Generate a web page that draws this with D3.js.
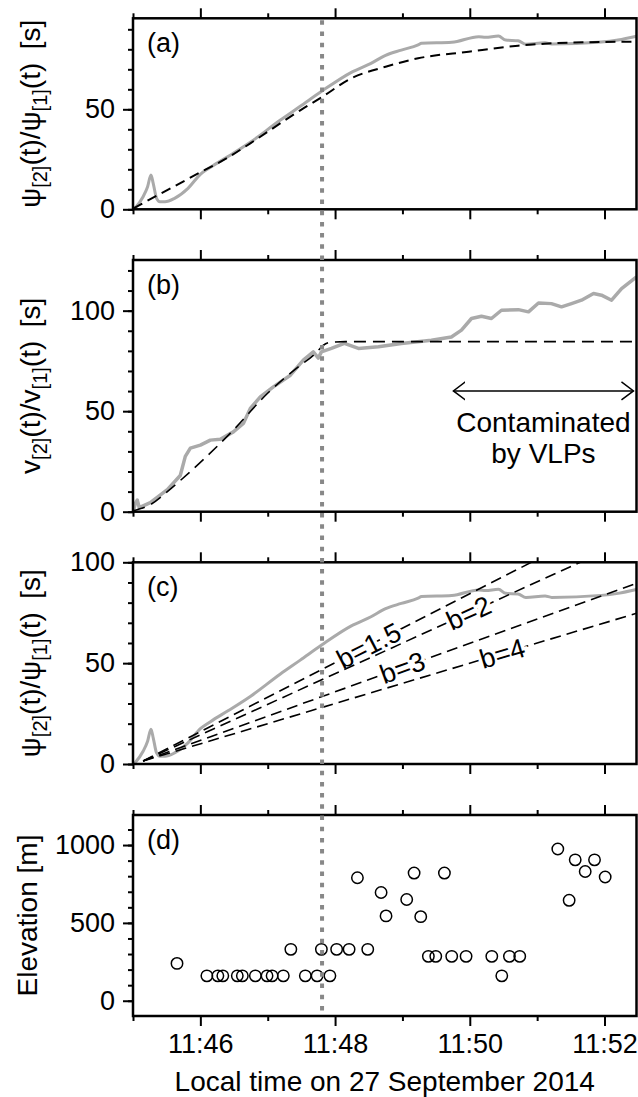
<!DOCTYPE html>
<html>
<head>
<meta charset="utf-8">
<script src="https://cdn.jsdelivr.net/npm/d3@7"></script>
<style>
body { margin: 0; background: #fff; }
svg text { font-family: "Liberation Sans", Arial, Helvetica, sans-serif; fill: #000; }
</style>
</head>
<body>
<div id="chart"></div>
<script>
// times are seconds after 11:45:00 local time, 27 Sep 2014

// (a),(c) amplitude ratio psi[2]/psi[1]
const psiTime  = [1, 9, 13, 16, 18, 21, 24, 28.5, 37, 49, 60, 69, 85, 104.5, 131, 149, 168, 194.5, 212, 225, 239, 254, 257, 284, 308, 314, 325.5, 332, 343, 350, 367, 373, 417, 432, 448.5];
const psiRatio = [0, 6.3, 11.3, 17.2, 13, 5.5, 3.8, 3.8, 5.5, 10.5, 17.5, 21, 26.5, 33.5, 44.5, 51.5, 59, 68.5, 73, 77, 79.6, 82.2, 83, 83.5, 86.3, 86, 86.6, 84.6, 84.3, 82.5, 83.3, 82.6, 83.6, 84.6, 86.5];
const psiFitTime = [0.4, 60, 85, 104.5, 149, 168, 194.5, 225, 254, 299, 343, 388, 448.5];
const psiFit     = [0.5, 18.5, 26, 33, 49.5, 56, 65.5, 71.3, 75.5, 78.8, 81.8, 83.3, 83.8];

// (b) velocity ratio v[2]/v[1]
const velTime  = [0.3, 2, 3.8, 5.6, 15.4, 30.6, 42.1, 46.6, 51.1, 60, 68.9, 77.8, 89.4, 98.3, 104.5, 113.4, 125, 140.2, 151.7, 160.6, 165.1, 167.8, 176.7, 188.3, 200.8, 218.6, 239.1, 265.8, 283.6, 292.6, 301.5, 310.4, 319.3, 328.2, 343.3, 352.3, 361.2, 372.7, 381.7, 390.6, 399.5, 410.2, 417.3, 426.3, 435.2, 448.5];
const velRatio = [0, 4, 5.8, 2, 4.5, 11, 18, 27.5, 31.6, 33.1, 35.6, 36, 39.7, 43.9, 51.4, 57.1, 62.1, 67.9, 75.4, 79.5, 76.4, 79.5, 81.2, 83.7, 81.2, 82, 83.7, 85.3, 86.9, 90.3, 96.1, 97.2, 96.1, 100.2, 100.5, 99.4, 103.8, 103.5, 101.9, 103.5, 105.2, 108.5, 107.7, 105.2, 111, 116.8];
const velFitTime = [0.3, 15.4, 30.6, 42.1, 60, 89.4, 119.7, 149.1, 160.6, 165.1, 169.6, 176.7, 189.2, 448.5];
const velFit     = [0.5, 3.5, 10, 15.5, 24.5, 40.6, 58.8, 72.9, 77.8, 80.3, 82.8, 84.3, 84.6, 84.6];

// (c) model lines for several b
const bLabels    = ["b=1.5", "b=2", "b=3", "b=4"];
const bLineTime  = [9, 448.5];
const bStart     = [1.5, 1.5, 1.5, 1.5];
const bEnd       = [126.7, 112.7, 89.6, 74.7];
const bLabelTime = [210, 299, 240, 329];

// (d) source elevation
const elevTime  = [39.2, 65.8, 75.6, 80, 92.9, 97.4, 109, 119.4, 123.9, 133.9, 140.6, 153.5, 164, 167.8, 175.4, 181.4, 192.5, 199.9, 209.1, 221, 225.4, 243.8, 250.4, 256.3, 263.1, 269.7, 277.4, 283.9, 296.7, 319.6, 328.5, 335.3, 344.5, 378.4, 388.5, 393.9, 402.8, 411.1, 420.6];
const elevation = [240, 160, 160, 160, 160, 160, 160, 160, 160, 160, 330, 160, 160, 330, 160, 330, 330, 790, 330, 695, 545, 650, 820, 540, 285, 285, 820, 285, 285, 285, 160, 285, 285, 975, 645, 905, 830, 905, 795];

const markerTime = 168.4;
const xTickLabels = ["11:46", "11:48", "11:50", "11:52"];
const xMinorLabels = ["11:45", "11:47", "11:49", "11:51"];
const panelLetters = ["(a)", "(b)", "(c)", "(d)"];

const width = 638, height = 1097;
const X0 = 133, X1 = 636.5;

const svg = d3.select("#chart").append("svg")
    .attr("width", width)
    .attr("height", height);

const parseHM = d3.timeParse("%H:%M");
const t0 = parseHM("11:45");
const toDate = s => new Date(t0.getTime() + s * 1000);

const x = d3.scaleTime()
    .domain([t0, toDate(448.5)])
    .range([X0, X1]);
const xMajor = xTickLabels.map(parseHM);
const xMinor = xMinorLabels.map(parseHM);

const panels = [
    { top: 18.3, bottom: 209.3, domain: [0, 95.5], major: [0, 50], minor: d3.range(0, 95, 10),
      label: [["ψ"], ["[2]", 1], ["(t)/ψ"], ["[1]", 1], ["(t)\u00a0\u2009[s]"]], labelX: 40 },
    { top: 260, bottom: 511.7, domain: [0, 125.2], major: [0, 50, 100], minor: d3.range(0, 125, 10),
      label: [["v"], ["[2]", 1], ["(t)/v"], ["[1]", 1], ["(t)\u00a0\u2009[s]"]], labelX: 40 },
    { top: 562.3, bottom: 764, domain: [0, 100], major: [0, 50, 100], minor: d3.range(0, 101, 10),
      label: [["ψ"], ["[2]", 1], ["(t)/ψ"], ["[1]", 1], ["(t)\u00a0\u2009[s]"]], labelX: 40 },
    { top: 815, bottom: 1016, domain: [-98, 1193], major: [0, 500, 1000], minor: d3.range(0, 1200, 100),
      label: [["Elevation [m]"]], labelX: 37 }
];

panels.forEach((p, i) => {
    p.y = d3.scaleLinear().domain(p.domain).range([p.bottom, p.top]);
    const g = svg.append("g");

    g.append("clipPath").attr("id", "clip" + i)
        .append("rect")
        .attr("x", X0).attr("y", p.top)
        .attr("width", X1 - X0).attr("height", p.bottom - p.top);
    p.plot = g.append("g").attr("clip-path", `url(#clip${i})`);

    // y ticks
    const yMaj = g.append("g").attr("transform", `translate(${X0},0)`)
        .call(d3.axisLeft(p.y).tickValues(p.major).tickSize(10).tickPadding(8)
            .tickSizeOuter(0).tickFormat(d3.format("d")));
    const yMin = g.append("g").attr("transform", `translate(${X0},0)`)
        .call(d3.axisLeft(p.y).tickValues(p.minor).tickSize(5).tickFormat(""));

    // x ticks top and bottom
    const xt = [
        g.append("g").attr("transform", `translate(0,${p.top})`)
            .call(d3.axisTop(x).tickValues(xMajor).tickSize(10).tickFormat("")),
        g.append("g").attr("transform", `translate(0,${p.top})`)
            .call(d3.axisTop(x).tickValues(xMinor).tickSize(5).tickFormat("")),
        g.append("g").attr("transform", `translate(0,${p.bottom})`)
            .call(d3.axisBottom(x).tickValues(xMajor).tickSize(10).tickPadding(8)
                .tickFormat(i === 3 ? (d, k) => xTickLabels[k] : "")),
        g.append("g").attr("transform", `translate(0,${p.bottom})`)
            .call(d3.axisBottom(x).tickValues(xMinor).tickSize(5).tickFormat(""))
    ];
    [yMaj, yMin, ...xt].forEach(a => {
        a.select(".domain").remove();
        a.selectAll("line").attr("stroke", "#000").attr("stroke-width", 2);
        a.selectAll("text").attr("font-family", null).style("font-size", "27px").attr("fill", "#000");
    });

    // frame
    g.append("rect")
        .attr("x", X0).attr("y", p.top)
        .attr("width", X1 - X0).attr("height", p.bottom - p.top)
        .attr("fill", "none").attr("stroke", "#000").attr("stroke-width", 2.5);

    // panel letter
    g.append("text")
        .attr("x", 147).attr("y", p.top + 34)
        .style("font-size", "27px")
        .text(panelLetters[i]);

    // y label with subscripts
    const lab = g.append("text")
        .attr("transform", `translate(${p.labelX},${(p.top + p.bottom) / 2}) rotate(-90)`)
        .attr("text-anchor", "middle")
        .style("font-size", "28px");
    let down = false;
    p.label.forEach(([s, sub]) => {
        const ts = lab.append("tspan").text(s);
        if (sub) {
            ts.style("font-size", "20px");
            if (!down) ts.attr("dy", 7);
            down = true;
        } else if (down) {
            ts.attr("dy", -7);
            down = false;
        }
    });
});

const grayLine = (times, vals, y, curve) => d3.line()
    .x((d, k) => x(toDate(times[k])))
    .y((d, k) => y(vals[k]))
    .curve(curve)(vals);

// (a)
const pa = panels[0];
pa.plot.append("path")
    .attr("d", grayLine(psiTime, psiRatio, pa.y, d3.curveMonotoneX))
    .attr("fill", "none").attr("stroke", "#aaaaaa").attr("stroke-width", 3);
pa.plot.append("path")
    .attr("d", grayLine(psiFitTime, psiFit, pa.y, d3.curveMonotoneX))
    .attr("fill", "none").attr("stroke", "#000").attr("stroke-width", 2)
    .attr("stroke-dasharray", "10,6");

// (b)
const pb = panels[1];
pb.plot.append("path")
    .attr("d", grayLine(velTime, velRatio, pb.y, d3.curveLinear))
    .attr("fill", "none").attr("stroke", "#aaaaaa").attr("stroke-width", 3.5)
    .attr("stroke-linejoin", "round");
pb.plot.append("path")
    .attr("d", grayLine(velFitTime, velFit, pb.y, d3.curveMonotoneX))
    .attr("fill", "none").attr("stroke", "#000").attr("stroke-width", 1.6)
    .attr("stroke-dasharray", "12,7");

// arrow and annotation
const arrowL = x(toDate(285.4)), arrowR = x(toDate(445.8)), arrowY = pb.y(60.1);
const defs = svg.append("defs");
defs.append("marker").attr("id", "head")
    .attr("viewBox", "-12 -10 14 20")
    .attr("refX", 0).attr("refY", 0)
    .attr("markerWidth", 14).attr("markerHeight", 20)
    .attr("markerUnits", "userSpaceOnUse")
    .attr("orient", "auto-start-reverse")
    .append("path")
    .attr("d", "M-12,-9L0,0L-12,9")
    .attr("fill", "none").attr("stroke", "#000").attr("stroke-width", 1.5);
svg.append("line")
    .attr("x1", arrowL).attr("x2", arrowR)
    .attr("y1", arrowY).attr("y2", arrowY)
    .attr("stroke", "#000").attr("stroke-width", 1.5)
    .attr("marker-start", "url(#head)").attr("marker-end", "url(#head)");
const noteX = x(toDate(365.6));
svg.append("text").attr("x", noteX).attr("y", arrowY + 41)
    .attr("text-anchor", "middle").style("font-size", "28px").text("Contaminated");
svg.append("text").attr("x", noteX).attr("y", arrowY + 72.5)
    .attr("text-anchor", "middle").style("font-size", "28px").text("by VLPs");

// (c)
const pc = panels[2];
pc.plot.append("path")
    .attr("d", grayLine(psiTime, psiRatio, pc.y, d3.curveMonotoneX))
    .attr("fill", "none").attr("stroke", "#aaaaaa").attr("stroke-width", 3);
bLabels.forEach((lbl, k) => {
    const ends = [bStart[k], bEnd[k]];
    pc.plot.append("path")
        .attr("d", grayLine(bLineTime, ends, pc.y, d3.curveLinear))
        .attr("fill", "none").attr("stroke", "#000").attr("stroke-width", 1.6)
        .attr("stroke-dasharray", "11,6");
    const x0p = x(toDate(bLineTime[0])), x1p = x(toDate(bLineTime[1]));
    const y0p = pc.y(bStart[k]), y1p = pc.y(bEnd[k]);
    const ang = Math.atan2(y1p - y0p, x1p - x0p) * 180 / Math.PI;
    const f = (bLabelTime[k] - bLineTime[0]) / (bLineTime[1] - bLineTime[0]);
    const lx = x(toDate(bLabelTime[k]));
    const ly = y0p + f * (y1p - y0p);
    pc.plot.append("text")
        .attr("transform", `translate(${lx},${ly}) rotate(${ang})`)
        .attr("text-anchor", "middle").attr("dy", "0.35em")
        .style("font-size", "27px")
        .attr("stroke", "#fff").attr("stroke-width", 7)
        .attr("paint-order", "stroke")
        .text(lbl);
});

// (d)
const pd = panels[3];
pd.plot.selectAll("circle")
    .data(elevation)
    .join("circle")
    .attr("cx", (d, k) => x(toDate(elevTime[k])))
    .attr("cy", d => pd.y(d))
    .attr("r", 5.7)
    .attr("fill", "none").attr("stroke", "#000").attr("stroke-width", 1.5);

// x axis title
svg.append("text")
    .attr("x", (X0 + X1) / 2).attr("y", 1091)
    .attr("text-anchor", "middle")
    .style("font-size", "28px")
    .text("Local time on 27 September 2014");

// event marker across all panels
svg.append("line")
    .attr("x1", x(toDate(markerTime))).attr("x2", x(toDate(markerTime)))
    .attr("y1", panels[0].top + 2).attr("y2", panels[3].bottom)
    .attr("stroke", "#888").attr("stroke-width", 4)
    .attr("stroke-dasharray", "4.5,6.7");
</script>
</body>
</html>
